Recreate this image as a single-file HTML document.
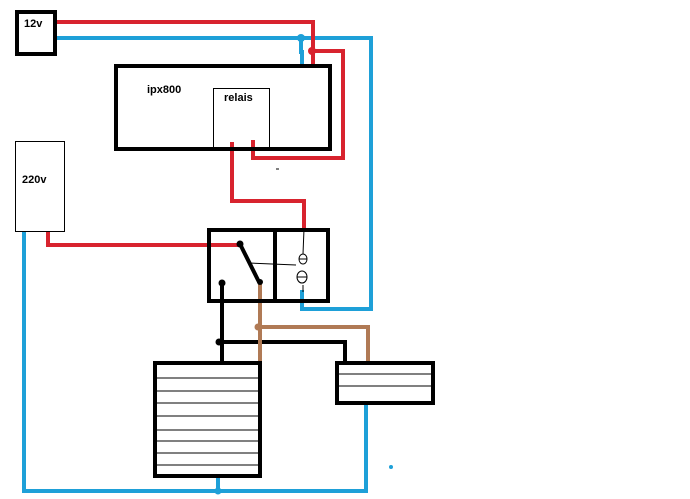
<!DOCTYPE html>
<html><head><style>body{margin:0;background:#fff}svg{display:block}</style></head><body>
<svg width="690" height="499" viewBox="0 0 690 499" xmlns="http://www.w3.org/2000/svg" font-family="Liberation Sans, sans-serif">
<rect width="690" height="499" fill="#fff"/>
<g fill="none" stroke-linejoin="miter">
<!-- blue wires -->
<g stroke="#1ea0d8" stroke-width="4">
<polyline points="55,38 371,38 371,309 302,309 302,290"/>
<polyline points="301,38 301,52 302,52 302,65"/>
<polyline points="24,231 24,491 366,491 366,403"/>
<line x1="218" y1="476" x2="218" y2="491"/>
</g>
<!-- red wires -->
<g stroke="#d8232e" stroke-width="4">
<polyline points="55,22 313,22 313,65"/>
<polyline points="312,51 343,51 343,158 253,158 253,140"/>
<polyline points="232,142 232,201 304,201 304,229"/>
<polyline points="48,232 48,245 240,245"/>
</g>
<!-- black/brown wires -->
<g stroke="#000" stroke-width="4">
<line x1="222" y1="283" x2="222" y2="362"/>
<polyline points="219,342 345,342 345,362"/>
<line x1="240" y1="244" x2="259" y2="282"/>
</g>
<g stroke="#b07a55" stroke-width="4">
<line x1="260" y1="282" x2="260" y2="362"/>
<polyline points="258,327 368,327 368,362"/>
</g>
<!-- boxes -->
<rect x="17" y="12" width="38" height="42" stroke="#000" stroke-width="4"/>
<rect x="116" y="66" width="214" height="83" stroke="#000" stroke-width="4"/>
<rect x="213.5" y="88.5" width="56" height="60" stroke="#000" stroke-width="1"/>
<rect x="15.5" y="141.5" width="49" height="90" stroke="#000" stroke-width="1"/>
<rect x="209" y="230" width="66" height="71" stroke="#000" stroke-width="4"/>
<rect x="275" y="230" width="53" height="71" stroke="#000" stroke-width="4"/>
<rect x="155" y="363" width="105" height="113" stroke="#000" stroke-width="4"/>
<rect x="337" y="363" width="96" height="40" stroke="#000" stroke-width="4"/>
<g stroke="#000" stroke-width="1">
<line x1="157" y1="378" x2="258" y2="378"/><line x1="157" y1="391" x2="258" y2="391"/>
<line x1="157" y1="403" x2="258" y2="403"/><line x1="157" y1="416" x2="258" y2="416"/>
<line x1="157" y1="430" x2="258" y2="430"/><line x1="157" y1="441" x2="258" y2="441"/>
<line x1="157" y1="453" x2="258" y2="453"/><line x1="157" y1="465" x2="258" y2="465"/>
<line x1="339" y1="374" x2="431" y2="374"/><line x1="339" y1="386" x2="431" y2="386"/>
<!-- coil -->
<line x1="304" y1="229" x2="303" y2="254"/><line x1="303" y1="285" x2="303" y2="292"/>
<line x1="249" y1="263" x2="296" y2="265"/>
<ellipse cx="303" cy="259" rx="4" ry="5"/><ellipse cx="302" cy="277" rx="5" ry="6"/>
<line x1="297" y1="277" x2="307" y2="277"/><line x1="299" y1="259" x2="307" y2="259"/>
</g>
<line x1="276" y1="169" x2="279" y2="169" stroke="#000" stroke-width="1"/>
</g>
<!-- dots -->
<circle cx="301" cy="38" r="4" fill="#1ea0d8"/>
<circle cx="218" cy="491" r="3.5" fill="#1ea0d8"/>
<circle cx="391" cy="467" r="2" fill="#1ea0d8"/>
<circle cx="312" cy="51" r="4" fill="#d8232e"/>
<circle cx="240" cy="244" r="3.5" fill="#000"/>
<circle cx="260" cy="282" r="3" fill="#000"/>
<circle cx="222" cy="283" r="3.5" fill="#000"/>
<circle cx="219" cy="342" r="3.5" fill="#000"/>
<circle cx="258" cy="327" r="3.5" fill="#b07a55"/>
<!-- labels -->
<g font-size="11" font-weight="bold" fill="#000">
<text x="24" y="27">12v</text>
<text x="147" y="93">ipx800</text>
<text x="224" y="101">relais</text>
<text x="22" y="183">220v</text>
</g>
</svg>
</body></html>
